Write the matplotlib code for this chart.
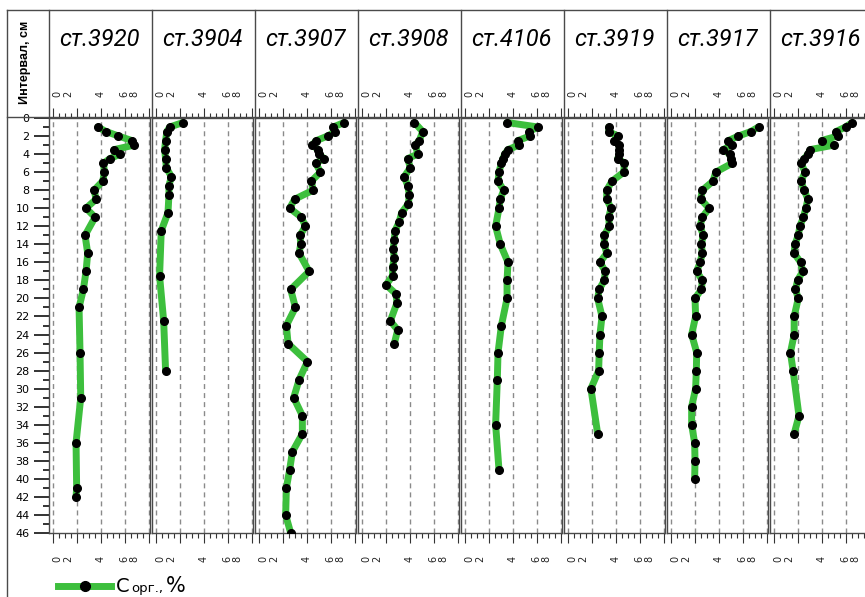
import matplotlib
matplotlib.use("Agg")
import matplotlib.pyplot as plt
from matplotlib.lines import Line2D
from matplotlib.ticker import MultipleLocator

# stations (columns, left to right)
stations = ["3920", "3904", "3907", "3908", "4106", "3919", "3917", "3916"]

# Corg, % vs depth interval, cm
depth_3920 = [1, 1.5, 2, 2.5, 3, 3.5, 4, 4.5, 5, 6, 7, 8, 9, 10, 11, 13, 15, 17, 19, 21,
              26, 31, 36, 41, 42]
corg_3920 = [3.76, 4.45, 5.48, 6.59, 6.81, 5.12, 5.62, 4.78, 4.23, 4.31, 4.17, 3.45, 3.62,
             2.78, 3.53, 2.7, 2.92, 2.78, 2.56, 2.2, 2.28, 2.34, 1.95, 2.0, 1.95]

depth_3904 = [0.5, 1, 1.5, 2.5, 3.5, 4.5, 5.5, 6.5, 7.5, 8.5, 10.5, 12.5, 17.5, 22.5, 28]
corg_3904 = [2.28, 1.17, 0.94, 0.83, 0.75, 0.83, 0.89, 1.31, 1.11, 1.11, 1.03, 0.47, 0.33,
             0.67, 0.83]

depth_3907 = [0.5, 1, 1.5, 2, 2.5, 3, 3.5, 4, 4.5, 5, 6, 7, 8, 9, 10, 11, 12, 13, 14, 15,
              17, 19, 21, 23, 25, 27, 29, 31, 33, 35, 37, 39, 41, 44, 46]
corg_3907 = [7.12, 6.2, 6.39, 5.73, 4.81, 4.45, 4.95, 5.0, 5.45, 4.75, 5.14, 4.39, 4.53,
             3.0, 2.58, 3.56, 3.89, 3.45, 3.5, 3.37, 4.2, 2.67, 3.06, 2.31, 2.45, 4.06,
             3.37, 2.92, 3.64, 3.64, 2.81, 2.58, 2.31, 2.25, 2.67]

depth_3908 = [0.5, 1.5, 2.5, 3, 4, 4.5, 5.5, 6.5, 7.5, 8.5, 9.5, 10.5, 11.5, 12.5, 13.5,
              14.5, 15.5, 16.5, 17.5, 18.5, 19.5, 20.5, 22.5, 23.5, 25]
corg_3908 = [4.39, 5.08, 4.8, 4.47, 4.67, 3.83, 4.05, 3.55, 3.83, 3.97, 3.89, 3.33, 3.13,
             2.78, 2.72, 2.63, 2.72, 2.58, 2.58, 2.03, 2.86, 2.94, 2.39, 3.0, 2.72]

depth_4106 = [0.5, 1, 1.5, 2, 2.5, 3, 3.5, 4, 4.5, 5, 6, 7, 8, 9, 10, 12, 14, 16, 18, 20,
              23, 26, 29, 34, 39]
corg_4106 = [3.53, 6.11, 5.36, 5.42, 4.44, 4.53, 3.61, 3.33, 3.19, 3.06, 2.86, 2.78, 3.25,
             2.97, 2.86, 2.58, 2.97, 3.61, 3.53, 3.53, 3.06, 2.78, 2.72, 2.58, 2.86]

depth_3919 = [1, 1.5, 2, 2.5, 3, 3.5, 4, 4.5, 5, 6, 7, 8, 9, 10, 11, 12, 13, 14, 15, 16,
              17, 18, 19, 20, 22, 24, 26, 28, 30, 35]
corg_3919 = [3.42, 3.42, 4.17, 3.89, 4.3, 4.3, 4.3, 4.17, 4.72, 4.67, 3.69, 3.25, 3.25,
             3.61, 3.42, 3.47, 3.05, 3.05, 3.25, 2.69, 3.14, 3.05, 2.63, 2.5, 2.86, 2.69,
             2.63, 2.58, 1.94, 2.5]

depth_3917 = [1, 1.5, 2, 2.5, 3, 3.5, 4, 4.5, 5, 6, 7, 8, 9, 10, 11, 12, 13, 14, 15, 16,
              17, 18, 19, 20, 22, 24, 26, 28, 30, 32, 34, 36, 38, 40]
corg_3917 = [7.31, 6.67, 5.64, 4.81, 5.08, 4.37, 4.92, 5.0, 5.14, 3.75, 3.53, 2.64, 2.5,
             3.2, 2.64, 2.45, 2.72, 2.56, 2.64, 2.45, 2.17, 2.64, 2.56, 2.03, 2.08, 1.75,
             2.17, 2.14, 2.08, 1.75, 1.75, 2.0, 2.03, 2.0]

depth_3916 = [0.5, 1, 1.5, 2, 2.5, 3, 3.5, 4, 4.5, 5, 6, 7, 8, 9, 10, 11, 12, 13, 14, 15,
              16, 17, 18, 19, 20, 22, 24, 26, 28, 33, 35]
corg_3916 = [6.55, 5.98, 5.19, 5.33, 3.99, 5.04, 3.05, 2.85, 2.56, 2.28, 2.62, 2.28, 2.54,
             2.85, 2.68, 2.48, 2.19, 2.05, 1.77, 1.71, 2.25, 2.42, 1.99, 1.82, 2.05, 1.71,
             1.71, 1.4, 1.62, 2.11, 1.71]

depths = [depth_3920, depth_3904, depth_3907, depth_3908,
          depth_4106, depth_3919, depth_3917, depth_3916]
corgs = [corg_3920, corg_3904, corg_3907, corg_3908,
         corg_4106, corg_3919, corg_3917, corg_3916]

xtick_labels = ["0", "2", "4", "6", "8"]
# the original draws the x labels squeezed, not under their ticks
xtick_label_pos = [0.4, 1.3, 4.0, 6.0, 6.8]

W, H = 865, 597
GREEN = "#3dbf3d"
EDGE = "#4a4a4a"


def fx(x):
    return x / W


def fy(y):
    return 1 - y / H


def fig_line(fig, x0, y0, x1, y1, **kw):
    fig.add_artist(Line2D([fx(x0), fx(x1)], [fy(y0), fy(y1)],
                          transform=fig.transFigure, color=EDGE, lw=1, **kw))


fig = plt.figure(figsize=(W / 100, H / 100), dpi=100)

top, bottom = 118, 533
step, width = 103, 101

for i, (st, dep, cg) in enumerate(zip(stations, depths, corgs)):
    left = 49 + step * i
    ax = fig.add_axes([fx(left), fy(bottom), width / W, (bottom - top) / H])
    ax.set_xlim(-0.3, 8.1)
    ax.set_ylim(46, 0)

    for g in range(0, 9, 2):
        ax.axvline(g, color="#8a8a8a", lw=1, ls=(0, (3.6, 2.9)), zorder=0)

    ax.plot(cg, dep, color=GREEN, lw=5, solid_joinstyle="round",
            solid_capstyle="round", zorder=2)
    ax.plot(cg, dep, "o", color="black", ms=5.5, zorder=3)

    ax.xaxis.set_major_locator(MultipleLocator(2))
    ax.xaxis.set_minor_locator(MultipleLocator(0.5))
    ax.tick_params(axis="x", which="both", top=True, bottom=True,
                   labeltop=False, labelbottom=False, direction="out", color="#333333")
    ax.tick_params(axis="x", which="major", length=7.5, width=0.8)
    ax.tick_params(axis="x", which="minor", length=3.5, width=0.8)
    for sp in ax.spines.values():
        sp.set_color(EDGE)
        sp.set_linewidth(1)

    for lab, pos in zip(xtick_labels, xtick_label_pos):
        for ypos in (1.057, -0.062):
            ax.text(pos, ypos, lab, transform=ax.get_xaxis_transform(), rotation=90,
                    ha="center", va="center", fontsize=7, color="#222222")

    fig.text(fx(left + width / 2), fy(40), f"ст.{st}", fontsize=17, style="italic",
             family="Roboto", ha="center", va="center")

    if i == 0:
        ax.yaxis.set_major_locator(MultipleLocator(2))
        ax.yaxis.set_minor_locator(MultipleLocator(1))
        ax.tick_params(axis="y", which="both", direction="out", color="#111111",
                       labelsize=8, pad=3.5)
        ax.tick_params(axis="y", which="major", length=10.5, width=1.2)
        ax.tick_params(axis="y", which="minor", length=4.5, width=1.2)
    else:
        ax.tick_params(axis="y", which="both", left=False, labelleft=False)

    # header divider above each column
    fig_line(fig, left, 10, left, top)

# outer frame of the table
fig_line(fig, 7, 10, W, 10)
fig_line(fig, 7, 10, 7, H)
fig_line(fig, 7, top - 1, W, top - 1)

fig.text(fx(25), fy(62), "Интервал, см", rotation=90, ha="center", va="center",
         fontsize=9, fontweight="bold", family="Liberation Sans")

# legend
fig.add_artist(Line2D([fx(58), fx(111)], [fy(586), fy(586)], transform=fig.transFigure,
                      color=GREEN, lw=5))
fig.add_artist(Line2D([fx(85)], [fy(586)], transform=fig.transFigure, marker="o",
                      color="black", ms=7))
fig.text(fx(116), fy(592), "С", fontsize=14, ha="left", va="baseline")
fig.text(fx(131), fy(592), "орг.,", fontsize=9.5, ha="left", va="baseline")
fig.text(fx(166), fy(592), "%", fontsize=15, ha="left", va="baseline")

fig.savefig("out.png", dpi=100)
